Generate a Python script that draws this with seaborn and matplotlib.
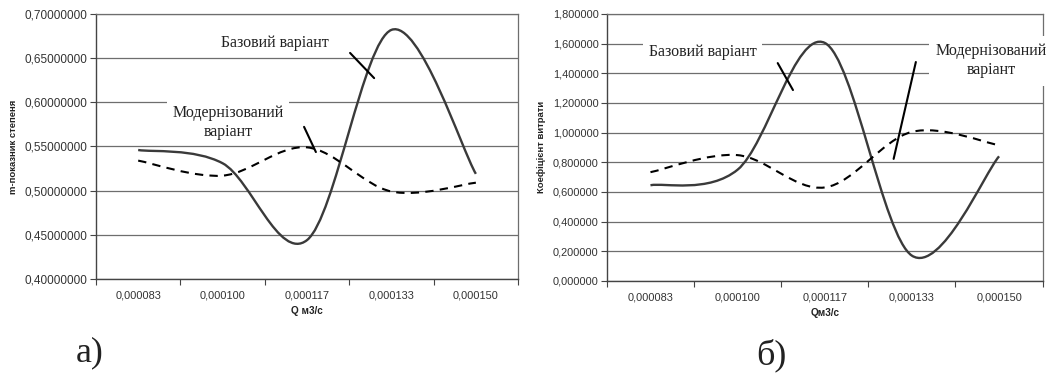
import matplotlib
matplotlib.use('Agg')
import matplotlib.pyplot as plt
import numpy as np
import pandas as pd
import seaborn as sns
from matplotlib.path import Path
from matplotlib.patches import PathPatch
from matplotlib.ticker import FuncFormatter, FixedLocator

sns.set_style('white')
plt.rcParams['font.family'] = ['Liberation Sans', 'DejaVu Sans']

# categories (flow Q, m3/s) shared by both panels
q_labels = ['0,000083', '0,000100', '0,000117', '0,000133', '0,000150']

# panel a) exponent m
m_base = [0.546, 0.531, 0.444, 0.682, 0.519]
m_modern = [0.534, 0.517, 0.549, 0.499, 0.509]

# panel b) flow coefficient
k_base = [0.645, 0.750, 1.605, 0.170, 0.840]
k_modern = [0.733, 0.848, 0.630, 1.005, 0.915]

SERIF = ['Liberation Serif', 'DejaVu Serif']


def smooth_patch(ax, xs, ys, **kw):
    # excel-like smoothed line through the points (catmull-rom -> bezier)
    pts = np.column_stack([xs, ys]).astype(float)
    n = len(pts)
    verts = [pts[0]]
    codes = [Path.MOVETO]
    for i in range(n - 1):
        p0 = pts[max(i - 1, 0)]
        p1 = pts[i]
        p2 = pts[i + 1]
        p3 = pts[min(i + 2, n - 1)]
        verts += [p1 + (p2 - p0) / 6, p2 - (p3 - p1) / 6, p2]
        codes += [Path.CURVE4] * 3
    patch = PathPatch(Path(verts, codes), fill=False, transform=ax.transData, **kw)
    ax.add_patch(patch)


def style_axes(ax, ymin, ymax, step, ndec, ylabel, xlabel, ysize):
    ax.set_xlim(-0.5, len(q_labels) - 0.5)
    ax.set_ylim(ymin, ymax)
    yt = np.round(np.arange(ymin, ymax + step / 2, step), 6)
    ax.yaxis.set_major_locator(FixedLocator(yt))
    ax.yaxis.set_major_formatter(FuncFormatter(lambda v, p: ('%.*f' % (ndec, v)).replace('.', ',')))
    ax.xaxis.set_major_locator(FixedLocator(np.arange(-0.5, len(q_labels), 1.0)))
    ax.xaxis.set_major_formatter(FuncFormatter(lambda v, p: ''))
    ax.xaxis.set_minor_locator(FixedLocator(np.arange(len(q_labels))))
    ax.set_xticklabels(q_labels, minor=True)
    ax.tick_params(axis='x', which='major', direction='out', length=4, width=0.8, color='#444444', bottom=True)
    ax.tick_params(axis='x', which='minor', length=0, pad=8.5, labelsize=7.9, labelcolor='#333333')
    ax.tick_params(axis='y', direction='out', length=4, width=0.8, color='#444444', left=True,
                   labelsize=ysize, labelcolor='#333333', pad=2)
    ax.grid(axis='y', color='#6e6e6e', lw=0.9)
    ax.set_axisbelow(True)
    for side in ['left', 'bottom']:
        ax.spines[side].set_color('#444444')
        ax.spines[side].set_linewidth(1.0)
    for side in ['top', 'right']:
        ax.spines[side].set_color('#6e6e6e')
        ax.spines[side].set_linewidth(0.9)
    ax.set_ylabel(ylabel, fontsize=6.8, fontweight='bold', color='#222222', labelpad=5)
    ax.set_xlabel(xlabel, fontsize=7.2, fontweight='bold', color='#222222', labelpad=4)


def label(ax, text, x, y):
    ax.text(x, y, text, transform=ax.transAxes, ha='center', va='center', family=SERIF,
            fontsize=11.5, color='#222222', linespacing=1.25, zorder=5,
            bbox=dict(boxstyle='square,pad=0.35', fc='white', ec='none'))


def leader(ax, p1, p2):
    ax.annotate('', xy=p2, xytext=p1, xycoords='axes fraction', textcoords='axes fraction',
                arrowprops=dict(arrowstyle='-', color='black', lw=1.5, shrinkA=0, shrinkB=0), zorder=6)


fig = plt.figure(figsize=(10.5, 3.78), dpi=100)
ax1 = fig.add_axes([0.0914, 0.262, 0.402, 0.701])
ax2 = fig.add_axes([0.578, 0.257, 0.415, 0.706])

x = np.arange(len(q_labels))

for ax, base, modern in [(ax1, m_base, m_modern), (ax2, k_base, k_modern)]:
    df = pd.DataFrame({'x': np.concatenate([x, x]), 'y': base + modern,
                       'var': ['base'] * len(x) + ['modern'] * len(x)})
    sns.lineplot(data=df, x='x', y='y', hue='var', ax=ax, lw=0, legend=False)
    smooth_patch(ax, x, base, color='#3a3a3a', lw=1.7, zorder=3)
    smooth_patch(ax, x, modern, color='black', lw=1.5, linestyle=(0, (4, 3)), zorder=3)

style_axes(ax1, 0.40, 0.70, 0.05, 8, 'm-показник степеня', 'Q м3/с', 8.5)
style_axes(ax2, 0.0, 1.8, 0.2, 6, 'Коефіцієнт витрати', 'Qм3/с', 7.9)

label(ax1, 'Базовий варіант', 0.424, 0.891)
leader(ax1, (0.602, 0.853), (0.659, 0.758))
label(ax1, 'Модернізований\nваріант', 0.313, 0.591)
leader(ax1, (0.493, 0.574), (0.521, 0.479))

label(ax2, 'Базовий варіант', 0.220, 0.858)
leader(ax2, (0.392, 0.816), (0.427, 0.715))
ax2.text(0.883, 0.824, 'Модернізований\nваріант', transform=ax2.transAxes, ha='center', va='center',
         family=SERIF, fontsize=11.5, color='#222222', linespacing=1.25, zorder=5, clip_on=False,
         bbox=dict(boxstyle='square,pad=0.45', fc='white', ec='none'))
leader(ax2, (0.709, 0.820), (0.658, 0.457))

fig.text(0.0857, 0.066, 'а)', family=SERIF, fontsize=26, color='#222222', ha='center', va='center')
fig.text(0.735, 0.060, 'б)', family=SERIF, fontsize=26, color='#222222', ha='center', va='center')

fig.savefig('out.png', dpi=100)
